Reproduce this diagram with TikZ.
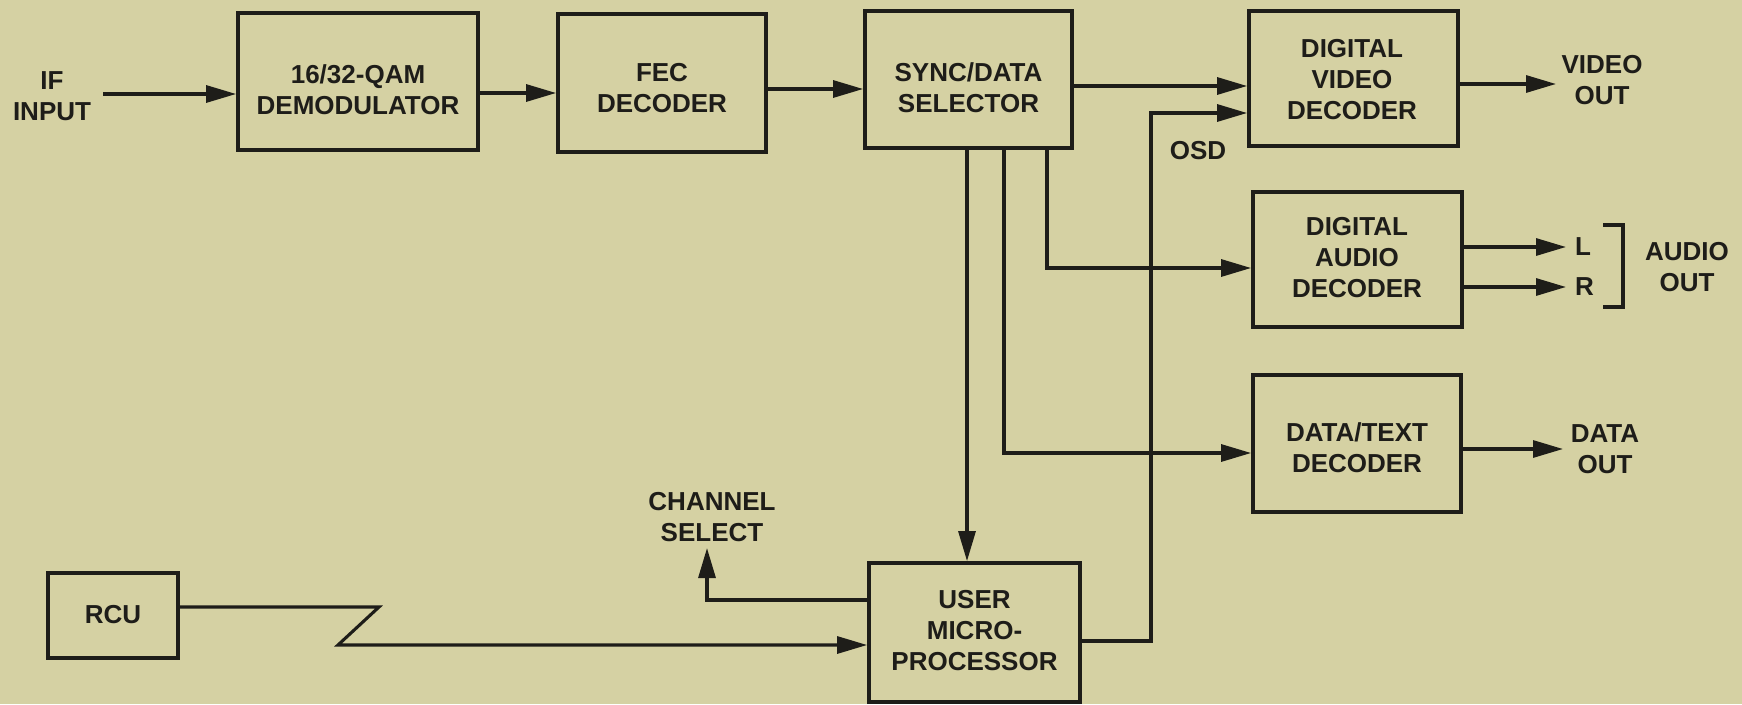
\documentclass[tikz,border=0pt]{standalone}
\usepackage{fontspec}
\setmainfont{Liberation Sans}
\usetikzlibrary{arrows.meta}
\definecolor{paper}{RGB}{213,209,163}
\definecolor{ink}{RGB}{30,29,25}
\begin{document}
\begin{tikzpicture}[x=1pt,y=-1pt,
  font=\fontsize{26}{31}\selectfont\bfseries,
  box/.style={draw=ink,line width=3.8pt,inner sep=0pt},
  txt/.style={text=ink,align=center,inner sep=0pt},
  ln/.style={draw=ink,line width=3.1pt},
  arr/.style={draw=ink,line width=3.1pt,-{Triangle[length=30pt,width=17pt]}}]
\fill[paper] (0,0) rectangle (1742,704);
\useasboundingbox (0,0) rectangle (1742,704);

% boxes
\node[box,minimum width=240pt,minimum height=137pt] (demod) at (358,81.5) {};
\node[txt] (demodT) at (358,89.5) {16/32-QAM\\DEMODULATOR};
\node[box,minimum width=208pt,minimum height=138pt] (fec) at (662,83) {};
\node[txt] (fecT) at (662,88) {FEC\\DECODER};
\node[box,minimum width=207pt,minimum height=137pt] (sync) at (968.5,79.5) {};
\node[txt] (syncT) at (968.5,87.5) {SYNC/DATA\\SELECTOR};
\node[box,minimum width=209pt,minimum height=135pt] (video) at (1353.5,78.5) {};
\node[txt] (videoT) at (1352,80) {DIGITAL\\VIDEO\\DECODER};
\node[box,minimum width=209pt,minimum height=135pt] (audio) at (1357.5,259.5) {};
\node[txt] (audioT) at (1357,258) {DIGITAL\\AUDIO\\DECODER};
\node[box,minimum width=208pt,minimum height=137pt] (data) at (1357,443.5) {};
\node[txt] (dataT) at (1357,448) {DATA/TEXT\\DECODER};
\node[box,minimum width=211pt,minimum height=139pt] (up) at (974.5,632.5) {};
\node[txt] (upT) at (974.5,631) {USER\\MICRO-\\PROCESSOR};
\node[box,minimum width=130pt,minimum height=85pt] (rcu) at (113,615.5) {};
\node[txt] (rcuT) at (113,615) {RCU};

% labels
\node[txt] (ifin) at (52,96) {IF\\INPUT};
\node[txt] (vout) at (1602,80) {VIDEO\\OUT};
\node[txt,anchor=west] (Lout) at (1575,247) {L};
\node[txt,anchor=west] (Rout) at (1575,287) {R};
\node[txt] (aout) at (1687,267) {AUDIO\\OUT};
\node[txt] (dout) at (1605,449) {DATA\\OUT};
\node[txt] (osd) at (1198,151) {OSD};
\node[txt] (chsel) at (712,517) {CHANNEL\\SELECT};

% helper coordinates
\coordinate (ifstart) at (103,94);
\coordinate (lv1) at (0,93);
\coordinate (lv2) at (0,89);
\coordinate (lv3) at (0,86);
\coordinate (voutTip) at (1556,84);
\coordinate (Ltip) at (1566,247);
\coordinate (Rtip) at (1566,287);
\coordinate (dTip) at (1563,449);
\coordinate (xU) at (967,0);
\coordinate (xD) at (1004,0);
\coordinate (xA) at (1047,0);
\coordinate (lvD) at (0,453);
\coordinate (lvA) at (0,268);
\coordinate (xO) at (1151,0);
\coordinate (lvO) at (0,641);
\coordinate (lvO2) at (0,113);
\coordinate (chTip) at (707,548);
\coordinate (lvC) at (0,600);
\coordinate (zz1) at (379,607);
\coordinate (zz2) at (338,645);

% connectors
\draw[arr] (ifstart) -- (ifstart -| demod.west);
\draw[arr] (demod.east |- lv1) -- (fec.west |- lv1);
\draw[arr] (fec.east |- lv2) -- (sync.west |- lv2);
\draw[arr] (sync.east |- lv3) -- (video.west |- lv3);
\draw[arr] (video.east |- voutTip) -- (voutTip);
\draw[arr] (audio.east |- Ltip) -- (Ltip);
\draw[arr] (audio.east |- Rtip) -- (Rtip);
\draw[arr] (data.east |- dTip) -- (dTip);
\draw[ln] (1603,225) -- (1623,225) -- (1623,307) -- (1603,307);
\draw[arr] (sync.south -| xU) -- (up.north -| xU);
\draw[arr] (sync.south -| xD) |- (data.west |- lvD);
\draw[arr] (sync.south -| xA) |- (audio.west |- lvA);
\draw[arr] (up.east |- lvO) -- (xO |- lvO) -- (xO |- lvO2) -- (video.west |- lvO2);
\draw[arr] (up.west |- lvC) -| (chTip);
\draw[arr] (rcu.east |- zz1) -- (zz1) -- (zz2) -- (up.west |- zz2);
\end{tikzpicture}
\end{document}
